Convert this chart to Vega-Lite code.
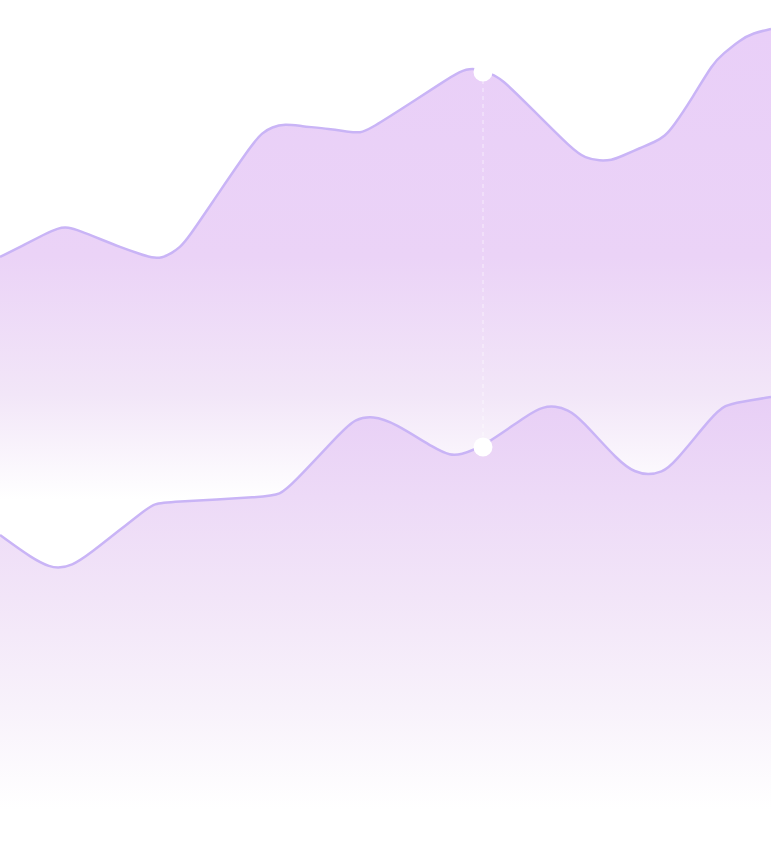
{
  "$schema": "https://vega.github.io/schema/vega-lite/v6.json",
  "width": 771,
  "height": 841,
  "autosize": "none",
  "padding": 0,
  "background": "white",
  "config": {"view": {"stroke": null}},
  "datasets": {
    "series": [
      {"s": "A", "t": 0, "v": 584}, {"s": "A", "t": 22, "v": 595}, {"s": "A", "t": 45, "v": 607},
      {"s": "A", "t": 58, "v": 613}, {"s": "A", "t": 68, "v": 614}, {"s": "A", "t": 80, "v": 610},
      {"s": "A", "t": 100, "v": 602}, {"s": "A", "t": 120, "v": 594}, {"s": "A", "t": 140, "v": 587},
      {"s": "A", "t": 152, "v": 583}, {"s": "A", "t": 162, "v": 583}, {"s": "A", "t": 172, "v": 588},
      {"s": "A", "t": 180, "v": 594}, {"s": "A", "t": 187, "v": 601}, {"s": "A", "t": 220, "v": 650},
      {"s": "A", "t": 253, "v": 698}, {"s": "A", "t": 262, "v": 708}, {"s": "A", "t": 272, "v": 714},
      {"s": "A", "t": 285, "v": 717}, {"s": "A", "t": 300, "v": 715}, {"s": "A", "t": 330, "v": 712},
      {"s": "A", "t": 350, "v": 709}, {"s": "A", "t": 360, "v": 708}, {"s": "A", "t": 370, "v": 712},
      {"s": "A", "t": 400, "v": 731}, {"s": "A", "t": 443, "v": 759}, {"s": "A", "t": 460, "v": 770},
      {"s": "A", "t": 473, "v": 773}, {"s": "A", "t": 483, "v": 770}, {"s": "A", "t": 490, "v": 767},
      {"s": "A", "t": 500, "v": 764}, {"s": "A", "t": 533, "v": 731}, {"s": "A", "t": 573, "v": 691},
      {"s": "A", "t": 585, "v": 683}, {"s": "A", "t": 600, "v": 680}, {"s": "A", "t": 612, "v": 681},
      {"s": "A", "t": 620, "v": 684}, {"s": "A", "t": 640, "v": 693}, {"s": "A", "t": 655, "v": 699},
      {"s": "A", "t": 665, "v": 705}, {"s": "A", "t": 673, "v": 714}, {"s": "A", "t": 693, "v": 744},
      {"s": "A", "t": 713, "v": 778}, {"s": "A", "t": 723, "v": 787}, {"s": "A", "t": 740, "v": 801},
      {"s": "A", "t": 753, "v": 808}, {"s": "A", "t": 771, "v": 812},
      {"s": "B", "t": 0, "v": 306}, {"s": "B", "t": 33, "v": 282}, {"s": "B", "t": 50, "v": 274},
      {"s": "B", "t": 60, "v": 273}, {"s": "B", "t": 72, "v": 276}, {"s": "B", "t": 85, "v": 283},
      {"s": "B", "t": 147, "v": 333}, {"s": "B", "t": 155, "v": 337}, {"s": "B", "t": 165, "v": 339},
      {"s": "B", "t": 267, "v": 344}, {"s": "B", "t": 280, "v": 347}, {"s": "B", "t": 290, "v": 354},
      {"s": "B", "t": 343, "v": 411}, {"s": "B", "t": 355, "v": 422}, {"s": "B", "t": 373, "v": 425},
      {"s": "B", "t": 393, "v": 419}, {"s": "B", "t": 437, "v": 391}, {"s": "B", "t": 450, "v": 386},
      {"s": "B", "t": 460, "v": 386}, {"s": "B", "t": 483, "v": 394}, {"s": "B", "t": 530, "v": 428},
      {"s": "B", "t": 543, "v": 434}, {"s": "B", "t": 555, "v": 435}, {"s": "B", "t": 568, "v": 431},
      {"s": "B", "t": 580, "v": 423}, {"s": "B", "t": 620, "v": 378}, {"s": "B", "t": 635, "v": 369},
      {"s": "B", "t": 648, "v": 366}, {"s": "B", "t": 662, "v": 369}, {"s": "B", "t": 673, "v": 376},
      {"s": "B", "t": 713, "v": 426}, {"s": "B", "t": 725, "v": 436}, {"s": "B", "t": 740, "v": 439},
      {"s": "B", "t": 771, "v": 444}
    ],
    "hover": [
      {"t": 483, "a": 769, "b": 394}
    ],
    "hoverPoints": [
      {"s": "A", "t": 483, "v": 769},
      {"s": "B", "t": 483, "v": 394}
    ]
  },
  "layer": [
    {
      "data": {"name": "series"},
      "transform": [{"filter": "datum.s === 'A'"}],
      "mark": {
        "type": "area",
        "interpolate": "basis",
        "fill": {
          "gradient": "linear", "x1": 0, "y1": 0, "x2": 0, "y2": 1,
          "stops": [
            {"offset": 0, "color": "#e9cff8"},
            {"offset": 0.28, "color": "#ebd3f7"},
            {"offset": 0.45, "color": "#f2e6f8"},
            {"offset": 0.58, "color": "#ffffff"},
            {"offset": 1, "color": "#ffffff"}
          ]
        }
      },
      "encoding": {
        "x": {"field": "t", "type": "quantitative", "scale": {"domain": [0, 771], "nice": false, "zero": false}, "axis": null},
        "y": {"field": "v", "type": "quantitative", "scale": {"domain": [0, 841], "nice": false}, "axis": null}
      }
    },
    {
      "data": {"name": "series"},
      "transform": [{"filter": "datum.s === 'B'"}],
      "mark": {
        "type": "area",
        "interpolate": "basis",
        "fill": {
          "gradient": "linear", "x1": 0, "y1": 0, "x2": 0, "y2": 1,
          "stops": [
            {"offset": 0, "color": "#e8cff6"},
            {"offset": 0.45, "color": "#f2e5f8"},
            {"offset": 0.7, "color": "#f8f2fb"},
            {"offset": 0.93, "color": "#ffffff"},
            {"offset": 1, "color": "#ffffff"}
          ]
        }
      },
      "encoding": {
        "x": {"field": "t", "type": "quantitative", "scale": {"domain": [0, 771], "nice": false, "zero": false}, "axis": null},
        "y": {"field": "v", "type": "quantitative", "scale": {"domain": [0, 841], "nice": false}, "axis": null}
      }
    },
    {
      "data": {"name": "series"},
      "mark": {"type": "line", "interpolate": "basis", "color": "#c9b4f6", "strokeWidth": 2.5},
      "encoding": {
        "x": {"field": "t", "type": "quantitative", "axis": null},
        "y": {"field": "v", "type": "quantitative", "axis": null},
        "detail": {"field": "s"}
      }
    },
    {
      "data": {"name": "hover"},
      "mark": {"type": "rule", "color": "#ffffff", "opacity": 0.6, "strokeWidth": 1, "strokeDash": [4, 4]},
      "encoding": {
        "x": {"field": "t", "type": "quantitative"},
        "y": {"field": "a", "type": "quantitative"},
        "y2": {"field": "b"}
      }
    },
    {
      "data": {"name": "hoverPoints"},
      "mark": {"type": "point", "filled": true, "color": "#ffffff", "opacity": 1, "size": 360},
      "encoding": {
        "x": {"field": "t", "type": "quantitative"},
        "y": {"field": "v", "type": "quantitative"}
      }
    }
  ]
}
